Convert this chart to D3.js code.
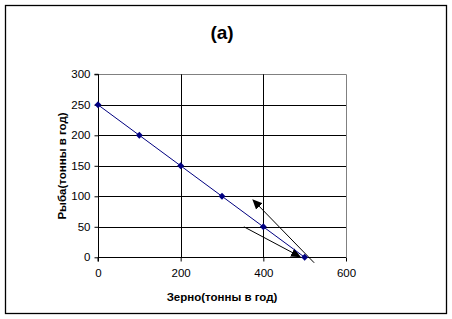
<!DOCTYPE html>
<html><head><meta charset="utf-8">
<script src="https://cdn.jsdelivr.net/npm/d3@7/dist/d3.min.js"></script>
<style>body{margin:0;background:#fff;}svg{display:block;font-family:"Liberation Sans",Arial,sans-serif;}</style>
</head><body>
<svg id="c" width="452" height="319"></svg>
<script>
const grain = [0, 100, 200, 300, 400, 500];
const fish = [250, 200, 150, 100, 50, 0];
const xTicks = [0, 200, 400, 600];
const yTicks = [0, 50, 100, 150, 200, 250, 300];
const arrows = [
  {x1: 523, y1: -9, x2: 375, y2: 94},
  {x1: 353, y1: 50, x2: 489, y2: 1}
];
const title = "(a)";
const xTitle = "Зерно(тонны в год)";
const yTitle = "Рыба(тонны в год)";

const svg = d3.select("#c");
svg.append("rect").attr("x",5.5).attr("y",5.5).attr("width",441).attr("height",308)
  .attr("fill","#fff").attr("stroke","#000").attr("stroke-width",1.3);

const L=98, R=346, T=74.3, B=257.3;
const x = d3.scaleLinear().domain([0,600]).range([L,R]);
const y = d3.scaleLinear().domain([0,300]).range([B,T]);

// grid
svg.append("g").selectAll("line").data(yTicks).join("line")
  .attr("x1",L).attr("x2",R).attr("y1",d=>Math.round(y(d))+0.5).attr("y2",d=>Math.round(y(d))+0.5)
  .attr("stroke",d=>d===300?"#808080":"#000").attr("stroke-width",1);
svg.append("g").selectAll("line").data(xTicks.filter(d=>d>0)).join("line")
  .attr("x1",d=>Math.round(x(d))+0.5).attr("x2",d=>Math.round(x(d))+0.5).attr("y1",T).attr("y2",B)
  .attr("stroke",d=>d===600?"#808080":"#000").attr("stroke-width",1);

// axes
const yAxis = d3.axisLeft(y).tickValues(yTicks).tickSize(4).tickPadding(4).tickFormat(d3.format("d"));
const gy = svg.append("g").attr("transform",`translate(${Math.round(L)+0.5},0)`).call(yAxis);
const xAxis = d3.axisBottom(x).tickValues(xTicks).tickSize(4).tickPadding(7).tickFormat(d3.format("d"));
const gx = svg.append("g").attr("transform",`translate(0,${Math.round(B)+0.5})`).call(xAxis);
[gx,gy].forEach(g=>{
  g.select(".domain").attr("stroke","#000");
  g.selectAll(".tick line").attr("stroke","#000");
  g.selectAll("text").attr("font-size",11.5).attr("fill","#000").attr("font-family","Liberation Sans, Arial, sans-serif");
});
gy.select(".domain").attr("d",`M-4,${T}H0V${B}`);
gx.select(".domain").attr("d",`M${L},4V0H${R}`);

// annotation arrows
const defs = svg.append("defs");
defs.append("marker").attr("id","ah").attr("viewBox","0 0 10 10").attr("refX",9).attr("refY",5)
  .attr("markerWidth",10).attr("markerHeight",10).attr("markerUnits","userSpaceOnUse").attr("orient","auto")
  .append("path").attr("d","M0,0.5L10,5L0,9.5Z").attr("fill","#000");
svg.append("g").selectAll("line").data(arrows).join("line")
  .attr("x1",d=>x(d.x1)).attr("y1",d=>y(d.y1)).attr("x2",d=>x(d.x2)).attr("y2",d=>y(d.y2))
  .attr("stroke","#000").attr("stroke-width",1).attr("marker-end","url(#ah)");

// series
const pts = grain.map((g,i)=>[g,fish[i]]);
svg.append("path").datum(pts).attr("fill","none").attr("stroke","#000080").attr("stroke-width",1)
  .attr("d",d3.line().x(d=>x(d[0])).y(d=>y(d[1])));
svg.append("g").selectAll("path").data(pts).join("path")
  .attr("transform",d=>`translate(${x(d[0])},${y(d[1])})`)
  .attr("d",d3.symbol(d3.symbolDiamond2,30)).attr("fill","#000080");

// titles
svg.append("text").attr("x",222).attr("y",39).attr("text-anchor","middle")
  .attr("font-size",19).attr("font-weight","bold").text(title);
svg.append("text").attr("x",222).attr("y",301).attr("text-anchor","middle")
  .attr("font-size",11.5).attr("font-weight","bold").text(xTitle);
svg.append("text").attr("transform","translate(66,166) rotate(-90)").attr("text-anchor","middle")
  .attr("font-size",11.5).attr("font-weight","bold").text(yTitle);
</script>
</body></html>
